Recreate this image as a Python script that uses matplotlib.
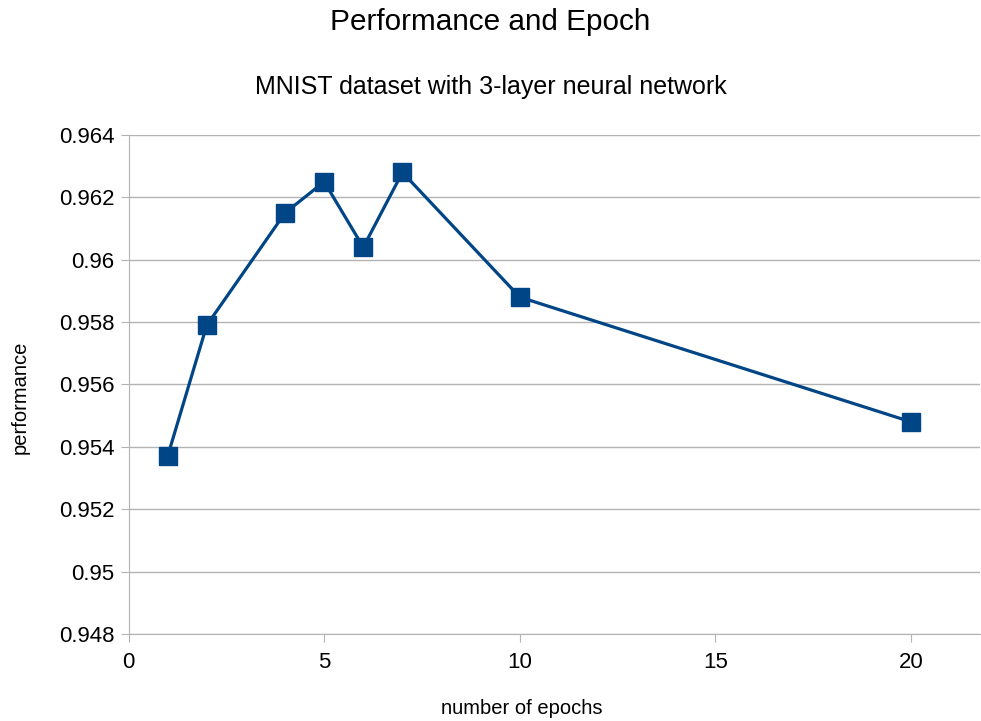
import matplotlib.pyplot as plt

plt.rcParams['font.family'] = ['Liberation Sans', 'DejaVu Sans']

epochs = [1, 2, 4, 5, 6, 7, 10, 20]
performance = [0.9537, 0.9579, 0.9615, 0.9625, 0.9604, 0.9628, 0.9588, 0.9548]

x_ticks = [0, 5, 10, 15, 20]
y_ticks = [0.948, 0.95, 0.952, 0.954, 0.956, 0.958, 0.96, 0.962, 0.964]
y_labels = ['0.948', '0.95', '0.952', '0.954', '0.956', '0.958', '0.96', '0.962', '0.964']

fig = plt.figure(figsize=(9.81, 7.21), dpi=100)
ax = fig.add_axes([0.1310, 0.1207, 0.8680, 0.6921])

ax.plot(epochs, performance, color='#004586', linewidth=2.3,
        marker='s', markersize=12.3, clip_on=False, zorder=3)

ax.set_xlim(0, 21.76)
ax.set_ylim(0.948, 0.964)
ax.set_xticks(x_ticks)
ax.set_yticks(y_ticks)
ax.set_yticklabels(y_labels)
ax.grid(axis='y', color='#b3b3b3', linewidth=1)
ax.set_axisbelow(True)

for side in ['top', 'right']:
    ax.spines[side].set_visible(False)
for side in ['left', 'bottom']:
    ax.spines[side].set_color('#b3b3b3')
ax.tick_params(direction='out', length=6, color='#b3b3b3', labelsize=16)
ax.tick_params(axis='x', pad=7)
ax.tick_params(axis='y', pad=4)

fig.text(0.500, 0.970, 'Performance and Epoch', ha='center', va='center', fontsize=21.4)
fig.text(0.500, 0.880, 'MNIST dataset with 3-layer neural network', ha='center', va='center', fontsize=18)
fig.text(0.5316, 0.017, 'number of epochs', ha='center', va='center', fontsize=14.5)
fig.text(0.021, 0.449, 'performance', ha='center', va='center', rotation=90, fontsize=14.5)

fig.savefig('out.png', dpi=100)
